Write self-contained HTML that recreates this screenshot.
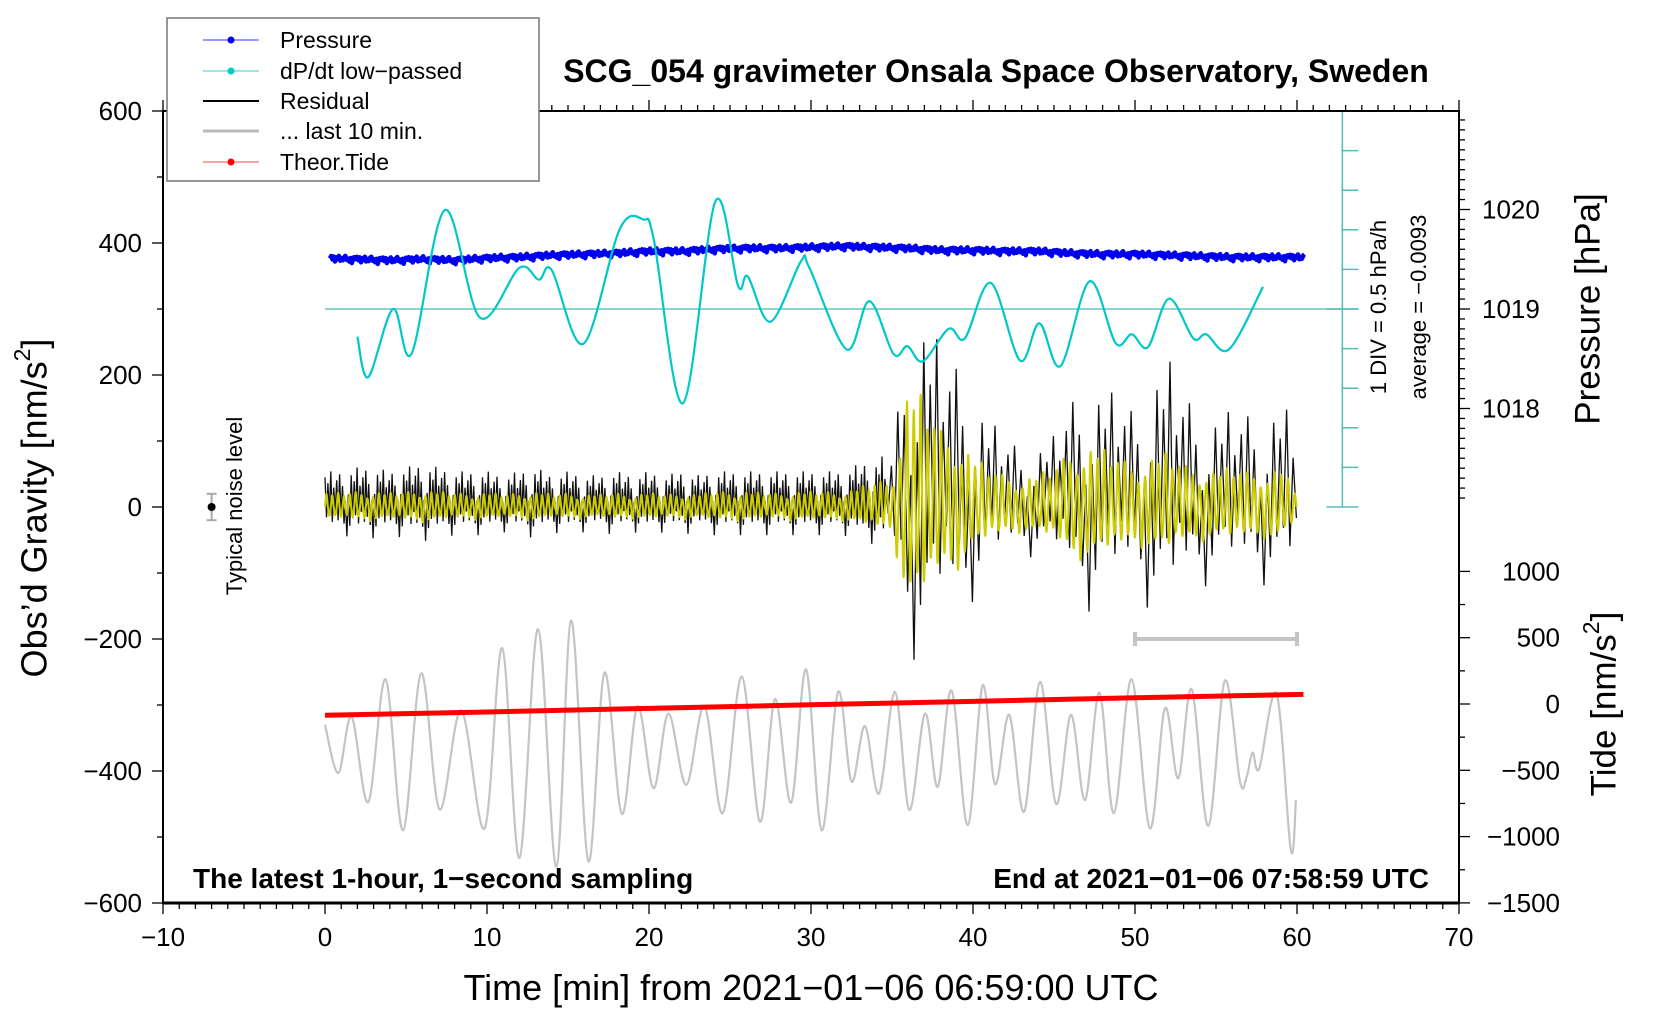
<!DOCTYPE html>
<html><head><meta charset="utf-8"><style>
html,body{margin:0;padding:0;background:#fff;}
svg{display:block;font-family:"Liberation Sans",sans-serif;}
</style></head><body>
<svg id="chart" width="1660" height="1020" viewBox="0 0 1660 1020" xmlns="http://www.w3.org/2000/svg">
<rect width="1660" height="1020" fill="#fff"/>
<g id="series"></g>
<g id="axes"></g>
<text x="996" y="82" text-anchor="middle" font-size="32" font-weight="bold">SCG_054 gravimeter Onsala Space Observatory, Sweden</text>
<text x="37" y="508" transform="rotate(-90 37 508)" text-anchor="middle" dominant-baseline="middle" font-size="36">Obs’d Gravity [nm/s<tspan baseline-shift="super" font-size="23">2</tspan>]</text>
<text x="811" y="1000" text-anchor="middle" font-size="36">Time [min] from 2021−01−06 06:59:00 UTC</text>
<text x="1590" y="309" transform="rotate(-90 1590 309)" text-anchor="middle" dominant-baseline="middle" font-size="35">Pressure [hPa]</text>
<text x="1606" y="704" transform="rotate(-90 1606 704)" text-anchor="middle" dominant-baseline="middle" font-size="35">Tide [nm/s<tspan baseline-shift="super" font-size="23">2</tspan>]</text>
<text x="1380" y="307" transform="rotate(-90 1380 307)" text-anchor="middle" dominant-baseline="middle" font-size="22">1 DIV = 0.5 hPa/h</text>
<text x="1420" y="307" transform="rotate(-90 1420 307)" text-anchor="middle" dominant-baseline="middle" font-size="22">average = −0.0093</text>
<text x="236" y="506" transform="rotate(-90 236 506)" text-anchor="middle" dominant-baseline="middle" font-size="22">Typical noise level</text>
<text x="193" y="888" font-size="28" font-weight="bold">The latest 1-hour, 1−second sampling</text>
<text x="1429" y="888" text-anchor="end" font-size="28" font-weight="bold">End at 2021−01−06 07:58:59 UTC</text>
<g>
<rect x="167" y="18" width="372" height="163" fill="#fff" stroke="#777" stroke-width="1.5"/>
<g><line x1="203" y1="40" x2="259" y2="40" stroke="#33f" stroke-width="1"/><circle cx="231" cy="40" r="3.5" fill="#00f"/><text x="280" y="48" font-size="23">Pressure</text></g>
<g><line x1="203" y1="71" x2="259" y2="71" stroke="#3cc" stroke-width="1"/><circle cx="231" cy="71" r="3.5" fill="#0cc"/><text x="280" y="79" font-size="23">dP/dt low−passed</text></g>
<g><line x1="203" y1="101" x2="259" y2="101" stroke="#000" stroke-width="2"/><text x="280" y="109" font-size="23">Residual</text></g>
<g><line x1="203" y1="131" x2="259" y2="131" stroke="#bbb" stroke-width="3"/><text x="280" y="139" font-size="23">... last 10 min.</text></g>
<g><line x1="203" y1="162" x2="259" y2="162" stroke="#f44" stroke-width="1"/><circle cx="231" cy="162" r="3.5" fill="#f00"/><text x="280" y="170" font-size="23">Theor.Tide</text></g>
</g>
</svg>
<script>
// ---- data ----
const xTicks = [-10,0,10,20,30,40,50,60,70];
const yTicks = [600,400,200,0,-200,-400,-600];
const pTicks = [1020,1019,1018];
const tideTicks = [1000,500,0,-500,-1000,-1500];
const pressTimes = [0,2,4,6,8,10,12,14,16,18,20,22,24,26,28,30,32,34,36,38,40,42,44,46,48,50,52,54,56,58,60];
const pressVals = [1019.51,1019.50,1019.49,1019.50,1019.49,1019.51,1019.52,1019.54,1019.55,1019.56,1019.58,1019.58,1019.60,1019.61,1019.61,1019.62,1019.63,1019.62,1019.61,1019.59,1019.59,1019.58,1019.58,1019.56,1019.55,1019.55,1019.54,1019.53,1019.52,1019.52,1019.52];
const pressJitter = [0,0.025,-0.01,0.02,-0.03,0.012,-0.005,0.028,-0.02,0.006,-0.015,0.018,0.03,-0.01,0.004,-0.025,0.01,-0.04,0.015,0.02];
const dpTimes = [2.0,2.67,4.2,5.35,7.4,9.57,12.0,13.2,14.0,15.95,18.2,19.65,20.3,22.1,24.1,25.5,26.1,27.5,29.4,29.9,32.2,33.6,35.1,35.95,36.9,38.5,39.5,41.1,42.9,44.1,45.4,47.2,48.8,49.8,50.8,52.1,53.6,54.4,55.8,57.9];
const dpVals = [-0.35,-0.86,0.0,-0.56,1.25,-0.11,0.52,0.37,0.49,-0.44,1.01,1.13,0.87,-1.19,1.36,0.29,0.41,-0.16,0.61,0.52,-0.51,0.10,-0.57,-0.47,-0.66,-0.25,-0.37,0.33,-0.65,-0.18,-0.72,0.35,-0.43,-0.32,-0.48,0.13,-0.37,-0.32,-0.51,0.28];
const resAmp = [45,45,50,50,45,50,55,50,45,45,45,40,45,50,40,45,40,40,45,40,45,40,45,40,45,45,45,45,45,45,45,45,45,55,60,70,240,250,200,190,150,110,90,80,80,90,140,170,150,140,130,170,190,150,130,120,120,125,125,130,110];
const filtAmp = [20,20,22,22,20,22,24,22,20,20,20,18,20,22,18,20,18,18,20,18,20,18,20,18,22,22,22,20,20,22,22,22,22,28,35,40,170,150,110,100,70,55,45,40,45,55,80,85,80,70,60,70,75,60,55,50,55,50,50,55,20];
const resPattern = [1,0.35,0.8,0.25,1.2,0.5,0.65,0.15,0.9,0.45,1.1,0.3,0.7,0.55,0.2,0.95,0.4,0.6];
const grayTimes = [0,0.82,1.64,2.67,3.74,4.81,5.94,7.07,8.41,9.85,10.94,12.0,13.15,14.28,15.2,16.26,17.25,18.32,19.29,20.28,21.2,22.3,23.42,24.55,25.72,26.85,27.78,28.77,29.7,30.66,31.68,32.5,33.33,34.2,35.19,36.07,37.04,37.82,38.68,39.67,40.6,41.36,42.24,43.15,44.14,45.13,46.05,46.92,47.8,48.7,49.79,50.92,51.85,52.67,53.5,54.52,55.55,56.48,56.89,57.26,57.67,58.74,59.62,59.93];
const grayVals = [-330,-403,-318,-447,-261,-490,-252,-458,-308,-487,-214,-532,-185,-545,-172,-537,-251,-465,-302,-426,-313,-421,-302,-464,-257,-477,-291,-448,-246,-490,-280,-416,-332,-434,-280,-459,-313,-424,-278,-482,-270,-420,-315,-462,-265,-450,-315,-444,-281,-464,-261,-487,-305,-411,-276,-483,-263,-416,-409,-372,-396,-283,-520,-444];
const tideTimes = [0,10,20,30,40,50,60.4];
const tideVals = [-85,-60,-33,-6,20,47,73];

// ---- scales ----
const X = t => 163 + (t + 10) * 1296 / 80;
const Y = v => 507 - v * 396 / 600;
const YP = p => 309 - (p - 1019) * 99.5;
const YT = v => 704 - v * 0.1326;
const YD = d => 309 - d * 79.2;
const NS = 'http://www.w3.org/2000/svg';
const series = document.getElementById('series');
const axes = document.getElementById('axes');
function mk(tag, attrs, parent) {
  const e = document.createElementNS(NS, tag);
  for (const k in attrs) e.setAttribute(k, attrs[k]);
  (parent || series).appendChild(e);
  return e;
}
function smoothPath(pts) {
  let d = 'M' + pts[0][0].toFixed(1) + ',' + pts[0][1].toFixed(1);
  for (let i = 0; i < pts.length - 1; i++) {
    const p0 = pts[Math.max(0, i - 1)], p1 = pts[i], p2 = pts[i + 1], p3 = pts[Math.min(pts.length - 1, i + 2)];
    const c1x = p1[0] + (p2[0] - p0[0]) / 6, c1y = p1[1] + (p2[1] - p0[1]) / 6;
    const c2x = p2[0] - (p3[0] - p1[0]) / 6, c2y = p2[1] - (p3[1] - p1[1]) / 6;
    d += ' C' + c1x.toFixed(1) + ',' + c1y.toFixed(1) + ' ' + c2x.toFixed(1) + ',' + c2y.toFixed(1) + ' ' + p2[0].toFixed(1) + ',' + p2[1].toFixed(1);
  }
  return d;
}
function interp(ts, vs, t) {
  if (t <= ts[0]) return vs[0];
  for (let i = 0; i < ts.length - 1; i++) if (t <= ts[i + 1]) return vs[i] + (vs[i + 1] - vs[i]) * (t - ts[i]) / (ts[i + 1] - ts[i]);
  return vs[vs.length - 1];
}
const minuteIdx = resAmp.map((_, i) => i);

// dP/dt zero line and scale
const zl = mk('line', {x1: X(0), y1: YD(0), x2: X(63.8), y2: YD(0), stroke: '#66c6c0', 'stroke-width': 1.5});


const sc = mk('g', {stroke: '#55bbb5', 'stroke-width': 1.5});


mk('line', {x1: X(62.8), y1: YD(2.5), x2: X(62.8), y2: YD(-2.5)}, sc);
for (let k = -5; k <= 5; k++) {
  const d = k * 0.5;
  const full = (k === -5 || k === 5 || k === 0);
  mk('line', {x1: full ? X(62.8) - 16 : X(62.8), y1: YD(d), x2: X(62.8) + 16, y2: YD(d)}, sc);
}

// gray last-10-min
const gp = mk('path', {d: smoothPath(grayTimes.map((t, i) => [X(t), Y(grayVals[i])])), fill: 'none', stroke: '#c4c4c4', 'stroke-width': 2.2});



// tide
const tl = mk('polyline', {points: tideTimes.map((t, i) => X(t) + ',' + YT(tideVals[i])).join(' '), fill: 'none', stroke: '#f00', 'stroke-width': 5});



// residual (black) and filtered (yellow)
let rp = [], fp = [];
let k = 0;
for (let t = 0; t <= 60; ) {
  const half = t < 34.5 ? 0.09 : 0.2;
  const a = interp(minuteIdx, resAmp, t);
  const sgn = (k % 2 === 0) ? 1 : -1;
  rp.push(X(t).toFixed(1) + ',' + Y(sgn * a * resPattern[k % resPattern.length]).toFixed(1));
  k++; t += half;
}
k = 0;
for (let t = 0; t <= 60; ) {
  const q = t < 34.5 ? 0.09 : 0.105;
  const a = interp(minuteIdx, filtAmp, t);
  const ph = [0, 1, 0, -1][k % 4];
  fp.push([X(t), Y(ph * a * (0.5 + 0.5 * resPattern[(k >> 1) % resPattern.length]))]);
  k++; t += q;
}
const rl = mk('polyline', {points: rp.join(' '), fill: 'none', stroke: '#111', 'stroke-width': 1.3});


const fl = mk('path', {d: smoothPath(fp), fill: 'none', stroke: '#cccc00', 'stroke-width': 2});



// pressure
let pp = [];
let j = 0;
for (let t = 0.3; t <= 60.5; t += 0.08) {
  pp.push(X(t).toFixed(1) + ',' + YP(interp(pressTimes, pressVals, t) + pressJitter[j % pressJitter.length]).toFixed(1));
  j++;
}
const pl = mk('polyline', {points: pp.join(' '), fill: 'none', stroke: '#0000ee', 'stroke-width': 4.5, 'stroke-linejoin': 'round'});



// dP/dt
const dl = mk('path', {d: smoothPath(dpTimes.map((t, i) => [X(t), YD(dpVals[i])])), fill: 'none', stroke: '#00c8c8', 'stroke-width': 2.2});



// 10-min scale bar
const sb = mk('g', {stroke: '#c4c4c4', 'stroke-width': 4});


mk('line', {x1: X(50), y1: Y(-200), x2: X(60), y2: Y(-200)}, sb);
mk('line', {x1: X(50), y1: Y(-200) - 7, x2: X(50), y2: Y(-200) + 7}, sb);
mk('line', {x1: X(60), y1: Y(-200) - 7, x2: X(60), y2: Y(-200) + 7}, sb);

// noise level
const nz = mk('g', {});


mk('line', {x1: X(-7), y1: Y(20), x2: X(-7), y2: Y(-20), stroke: '#aaa', 'stroke-width': 2}, nz);
mk('line', {x1: X(-7) - 5, y1: Y(20), x2: X(-7) + 5, y2: Y(20), stroke: '#aaa', 'stroke-width': 2}, nz);
mk('line', {x1: X(-7) - 5, y1: Y(-20), x2: X(-7) + 5, y2: Y(-20), stroke: '#aaa', 'stroke-width': 2}, nz);
mk('circle', {cx: X(-7), cy: Y(0), r: 4, fill: '#000'}, nz);

// ---- axes ----
const frame = mk('rect', {x: 163, y: 111, width: 1296, height: 792, fill: 'none', stroke: '#000', 'stroke-width': 2}, axes);


mk('line', {x1: 163, y1: 903, x2: 1459, y2: 903, stroke: '#000', 'stroke-width': 3}, axes);
for (let t = -10; t <= 70; t++) {
  const major = t % 10 === 0;
  mk('line', {x1: X(t), y1: 903, x2: X(t), y2: 903 + (major ? 11 : 6), stroke: '#000', 'stroke-width': 1.3}, axes);
  mk('line', {x1: X(t), y1: 111, x2: X(t), y2: 111 - (major ? 11 : 6), stroke: '#000', 'stroke-width': 1.3}, axes);
}
xTicks.forEach(t => {
  const e = mk('text', {x: X(t), y: 946, 'text-anchor': 'middle', 'font-size': 26}, axes);
  e.textContent = t < 0 ? '−' + Math.abs(t) : String(t);
  
  
});
for (let v = -600; v <= 600; v += 100) {
  const major = v % 200 === 0;
  mk('line', {x1: 163, y1: Y(v), x2: 163 - (major ? 11 : 6), y2: Y(v), stroke: '#000', 'stroke-width': 1.3}, axes);
}
yTicks.forEach(v => {
  const e = mk('text', {x: 142, y: Y(v) + 9, 'text-anchor': 'end', 'font-size': 26}, axes);
  e.textContent = v < 0 ? '−' + Math.abs(v) : String(v);
  
  
});
for (let p = 1016.0; p <= 1020.95; p += 0.1) {
  const y = YP(p);
  if (y < 111 || y > 507) continue;
  const major = Math.abs(p - Math.round(p)) < 0.01;
  mk('line', {x1: 1459, y1: y, x2: 1459 + (major ? 11 : 6), y2: y, stroke: '#000', 'stroke-width': 1.3}, axes);
}
pTicks.forEach(p => {
  const e = mk('text', {x: 1482, y: YP(p) + 9, 'text-anchor': 'start', 'font-size': 26}, axes);
  e.textContent = String(p);
  
  
});
for (let v = -1500; v <= 1000; v += 250) {
  const major = v % 500 === 0;
  mk('line', {x1: 1459, y1: YT(v), x2: 1459 + (major ? 11 : 6), y2: YT(v), stroke: '#000', 'stroke-width': 1.3}, axes);
}
tideTicks.forEach(v => {
  const e = mk('text', {x: 1560, y: YT(v) + 9, 'text-anchor': 'end', 'font-size': 26}, axes);
  e.textContent = v < 0 ? '−' + Math.abs(v) : String(v);
  
  
});
</script>
</body></html>
